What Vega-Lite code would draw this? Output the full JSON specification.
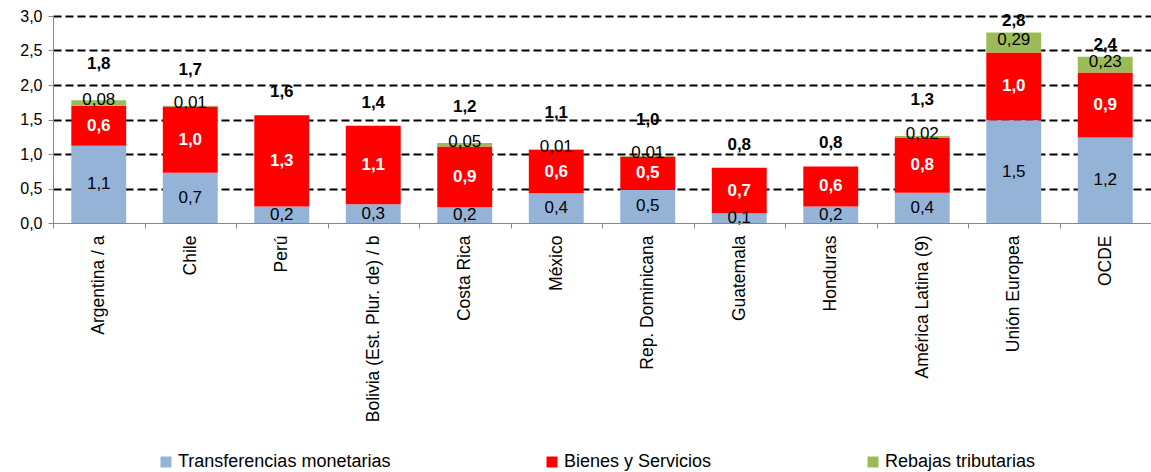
{
  "$schema": "https://vega.github.io/schema/vega-lite/v6.json",
  "width": 1098,
  "height": 207,
  "autosize": {"type": "none"},
  "padding": {"top": 16, "left": 53, "right": 0, "bottom": 249},
  "background": "white",
  "config": {
    "locale": {"number": {"decimal": ",", "thousands": ".", "grouping": [3], "currency": ["", " €"]}},
    "view": {"stroke": null},
    "font": "Liberation Sans"
  },
  "data": {
    "values": [
      {"pais": "Argentina / a", "componente": "Transferencias monetarias", "valor": 1.12},
      {"pais": "Argentina / a", "componente": "Bienes y Servicios", "valor": 0.58},
      {"pais": "Argentina / a", "componente": "Rebajas tributarias", "valor": 0.08},
      {"pais": "Chile", "componente": "Transferencias monetarias", "valor": 0.73},
      {"pais": "Chile", "componente": "Bienes y Servicios", "valor": 0.96},
      {"pais": "Chile", "componente": "Rebajas tributarias", "valor": 0.01},
      {"pais": "Perú", "componente": "Transferencias monetarias", "valor": 0.24},
      {"pais": "Perú", "componente": "Bienes y Servicios", "valor": 1.32},
      {"pais": "Bolivia (Est. Plur. de) / b", "componente": "Transferencias monetarias", "valor": 0.27},
      {"pais": "Bolivia (Est. Plur. de) / b", "componente": "Bienes y Servicios", "valor": 1.14},
      {"pais": "Costa Rica", "componente": "Transferencias monetarias", "valor": 0.23},
      {"pais": "Costa Rica", "componente": "Bienes y Servicios", "valor": 0.88},
      {"pais": "Costa Rica", "componente": "Rebajas tributarias", "valor": 0.05},
      {"pais": "México", "componente": "Transferencias monetarias", "valor": 0.43},
      {"pais": "México", "componente": "Bienes y Servicios", "valor": 0.63},
      {"pais": "México", "componente": "Rebajas tributarias", "valor": 0.01},
      {"pais": "Rep. Dominicana", "componente": "Transferencias monetarias", "valor": 0.48},
      {"pais": "Rep. Dominicana", "componente": "Bienes y Servicios", "valor": 0.48},
      {"pais": "Rep. Dominicana", "componente": "Rebajas tributarias", "valor": 0.01},
      {"pais": "Guatemala", "componente": "Transferencias monetarias", "valor": 0.14},
      {"pais": "Guatemala", "componente": "Bienes y Servicios", "valor": 0.66},
      {"pais": "Honduras", "componente": "Transferencias monetarias", "valor": 0.24},
      {"pais": "Honduras", "componente": "Bienes y Servicios", "valor": 0.58},
      {"pais": "América Latina (9)", "componente": "Transferencias monetarias", "valor": 0.44},
      {"pais": "América Latina (9)", "componente": "Bienes y Servicios", "valor": 0.8},
      {"pais": "América Latina (9)", "componente": "Rebajas tributarias", "valor": 0.02},
      {"pais": "Unión Europea", "componente": "Transferencias monetarias", "valor": 1.49},
      {"pais": "Unión Europea", "componente": "Bienes y Servicios", "valor": 0.98},
      {"pais": "Unión Europea", "componente": "Rebajas tributarias", "valor": 0.29},
      {"pais": "OCDE", "componente": "Transferencias monetarias", "valor": 1.24},
      {"pais": "OCDE", "componente": "Bienes y Servicios", "valor": 0.94},
      {"pais": "OCDE", "componente": "Rebajas tributarias", "valor": 0.23}
    ]
  },
  "transform": [
    {"calculate": "indexof(['Transferencias monetarias','Bienes y Servicios','Rebajas tributarias'], datum.componente)", "as": "orden"},
    {"stack": "valor", "groupby": ["pais"], "sort": [{"field": "orden", "order": "ascending"}], "as": ["v0", "v1"]},
    {"calculate": "(datum.v0 + datum.v1) / 2", "as": "vmid"},
    {"calculate": "datum.v0", "as": "ypos"}
  ],
  "encoding": {
    "x": {
      "field": "pais",
      "type": "nominal",
      "sort": ["Argentina / a", "Chile", "Perú", "Bolivia (Est. Plur. de) / b", "Costa Rica", "México", "Rep. Dominicana", "Guatemala", "Honduras", "América Latina (9)", "Unión Europea", "OCDE"],
      "scale": {"paddingInner": 0, "paddingOuter": 0},
      "axis": {
        "title": null,
        "labelAngle": -90,
        "labelFontSize": 17.5,
        "labelFont": "Liberation Sans",
        "labelColor": "black",
        "domainColor": "#868686",
        "tickColor": "#868686",
        "tickSize": 5,
        "tickBand": "extent",
        "labelPadding": 7,
        "labelLimit": 400,
        "zindex": 1
      }
    },
    "y": {
      "field": "ypos",
      "type": "quantitative",
      "scale": {"domain": [0, 3], "nice": false},
      "axis": {
        "title": null,
        "values": [0, 0.5, 1, 1.5, 2, 2.5, 3],
        "format": ".1f",
        "labelFontSize": 16,
        "labelFont": "Liberation Sans",
        "labelColor": "black",
        "domainColor": "#868686",
        "tickColor": "#868686",
        "tickSize": 5,
        "labelPadding": 6,
        "grid": true,
        "gridColor": {"condition": {"test": "datum.value === 0", "value": "transparent"}, "value": "black"},
        "gridDash": [8, 4],
        "gridWidth": 2
      }
    }
  },
  "layer": [
    {
      "mark": {"type": "bar", "width": {"band": 0.6}},
      "encoding": {
        "y2": {"field": "v1"},
        "color": {
          "field": "componente",
          "type": "nominal",
          "scale": {
            "domain": ["Transferencias monetarias", "Bienes y Servicios", "Rebajas tributarias"],
            "range": ["#95B3D7", "#FF0000", "#9BBB59"]
          },
          "legend": {
            "title": null,
            "orient": "none",
            "legendX": 104,
            "legendY": 437,
            "direction": "horizontal",
            "columns": 3,
            "columnPadding": 152,
            "symbolType": "square",
            "symbolSize": 121,
            "symbolStrokeWidth": 0,
            "labelFontSize": 18,
            "labelFont": "Liberation Sans",
            "labelColor": "black",
            "labelOffset": 3,
            "labelLimit": 400,
            "padding": 0
          }
        }
      }
    },
    {
      "transform": [
        {"filter": "datum.componente === 'Transferencias monetarias'"},
        {"calculate": "datum.vmid", "as": "ypos"}
      ],
      "mark": {"type": "text", "fontSize": 17, "font": "Liberation Sans", "color": "black", "baseline": "middle"},
      "encoding": {
        "text": {"field": "valor", "type": "quantitative", "format": ".1f"}
      }
    },
    {
      "transform": [
        {"filter": "datum.componente === 'Bienes y Servicios'"},
        {"calculate": "datum.vmid", "as": "ypos"}
      ],
      "mark": {"type": "text", "fontSize": 17, "fontWeight": "bold", "font": "Liberation Sans", "color": "white", "baseline": "middle"},
      "encoding": {
        "text": {"field": "valor", "type": "quantitative", "format": ".1f"}
      }
    },
    {
      "transform": [
        {"filter": "datum.componente === 'Rebajas tributarias' && datum.valor > 0"},
        {"calculate": "datum.vmid", "as": "ypos"}
      ],
      "mark": {"type": "text", "fontSize": 17, "font": "Liberation Sans", "color": "black", "baseline": "middle", "dy": -3},
      "encoding": {
        "text": {"field": "valor", "type": "quantitative", "format": ".2f"}
      }
    },
    {
      "transform": [
        {"aggregate": [{"op": "sum", "field": "valor", "as": "total"}, {"op": "count", "as": "n"}], "groupby": ["pais"]},
        {"filter": "datum.total < 2 && datum.n === 3"},
        {"calculate": "datum.total", "as": "ypos"}
      ],
      "mark": {"type": "text", "fontSize": 17, "fontWeight": "bold", "font": "Liberation Sans", "color": "black", "baseline": "middle", "dy": -36},
      "encoding": {
        "text": {"field": "total", "type": "quantitative", "format": ".1f"}
      }
    },
    {
      "transform": [
        {"aggregate": [{"op": "sum", "field": "valor", "as": "total"}, {"op": "count", "as": "n"}], "groupby": ["pais"]},
        {"filter": "datum.n === 2"},
        {"calculate": "datum.total", "as": "ypos"}
      ],
      "mark": {"type": "text", "fontSize": 17, "fontWeight": "bold", "font": "Liberation Sans", "color": "black", "baseline": "middle", "dy": -23},
      "encoding": {
        "text": {"field": "total", "type": "quantitative", "format": ".1f"}
      }
    },
    {
      "transform": [
        {"aggregate": [{"op": "sum", "field": "valor", "as": "total"}], "groupby": ["pais"]},
        {"filter": "datum.total >= 2"},
        {"calculate": "datum.total", "as": "ypos"}
      ],
      "mark": {"type": "text", "fontSize": 17, "fontWeight": "bold", "font": "Liberation Sans", "color": "black", "baseline": "middle", "dy": -12},
      "encoding": {
        "text": {"field": "total", "type": "quantitative", "format": ".1f"}
      }
    }
  ]
}
